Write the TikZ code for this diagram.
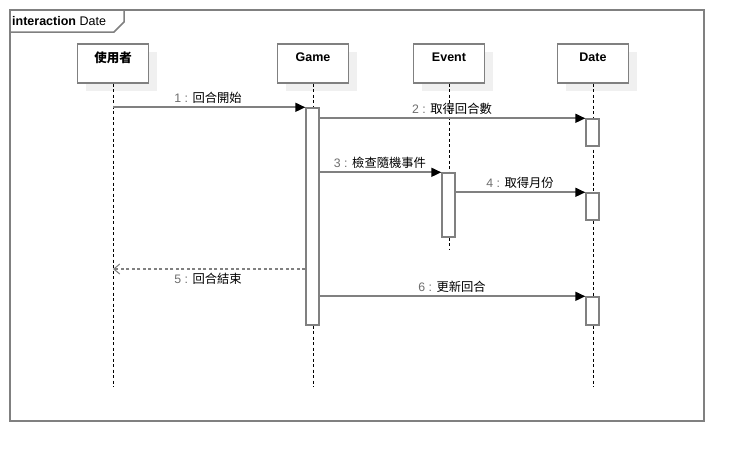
\documentclass[tikz,border=0pt]{standalone}
\usepackage{fontspec}
\setmainfont{Liberation Sans}
\newfontfamily\cjk{Noto Sans CJK TC}
\usetikzlibrary{arrows.meta}
\definecolor{lgray}{RGB}{128,128,128}
\definecolor{shad}{RGB}{240,240,240}
\definecolor{numgray}{RGB}{110,110,110}
\tikzset{
  head/.style={draw=lgray, line width=1.4pt, fill=white, minimum width=71pt, minimum height=39pt, inner sep=0pt, font=\fontsize{12.5}{14}\selectfont\bfseries},
  headshadow/.style={fill=shad, draw=none, minimum width=71pt, minimum height=39pt},
  act/.style={draw=lgray, line width=1.4pt, fill=white, minimum width=13pt, inner sep=0pt},
  life/.style={line width=0.9pt, dash pattern=on 3pt off 2.5pt},
  msg/.style={draw=lgray, line width=1.7pt, -{Triangle[length=10pt,width=9pt,fill=black,color=black]}},
  ret/.style={draw=lgray, line width=1.5pt, dash pattern=on 3pt off 2.5pt, -{Straight Barb[length=6pt,width=10pt,line width=1pt,color=lgray]}},
  lbl/.style={font=\fontsize{12.3}{14}\selectfont, inner sep=0pt},
  frm/.style={draw=lgray, line width=1.5pt}
}
\newcommand{\mlab}[2]{{\color{numgray}#1 :} {\cjk #2}}
\begin{document}
\begin{tikzpicture}[x=1pt,y=-1pt]
\useasboundingbox[fill=white] (0,0) rectangle (744,461);
% frame
\draw[frm] (10,10) rectangle (704,421);
\draw[frm] (10,10) -- (124,10) -- (124,22) -- (114,32) -- (10,32);
\node[anchor=west, inner sep=0pt, font=\fontsize{12.5}{14}\selectfont] (ftitle) at (12,21) {\textbf{interaction} Date};
% head shadows
\node[headshadow] at (121,71.5) {};
\node[headshadow] at (321,71.5) {};
\node[headshadow] at (457,71.5) {};
\node[headshadow] at (601,71.5) {};
% heads
\node[head] (u) at (113,63.5) {\raisebox{12pt}{\cjk\bfseries 使用者}};
\node[head] (g) at (313,63.5) {\raisebox{12pt}{Game}};
\node[head] (e) at (449,63.5) {\raisebox{12pt}{Event}};
\node[head] (d) at (593,63.5) {\raisebox{12pt}{Date}};
% lifeline ends
\coordinate (uend) at (113,387);
\coordinate (gend) at (313,387);
\coordinate (eend) at (449,249);
\coordinate (dend) at (593,387);
\draw[life] (u.south) -- (uend);
\draw[life] (g.south) -- (gend);
\draw[life] (e.south) -- (eend);
\draw[life] (d.south) -- (dend);
% activations
\node[act, minimum height=217pt] (ga) at (312.5,216.5) {};
\node[act, minimum height=27pt] (da1) at (592.5,132.5) {};
\node[act, minimum height=64pt] (ea) at (448.5,205) {};
\node[act, minimum height=27pt] (da2) at (592.5,206.5) {};
\node[act, minimum height=28pt] (da3) at (592.5,311) {};
% messages
\draw[msg] (u.south |- ga.north) -- (ga.north west);
\draw[msg] (ga.east |- da1.north) -- (da1.north west);
\draw[msg] (ga.east |- ea.north) -- (ea.north west);
\draw[msg] (ea.east |- da2.north) -- (da2.north west);
\coordinate (rstart) at (ga.west |- 0,269);
\draw[ret] (rstart) -- (u.south |- rstart);
\draw[msg] (ga.east |- da3.north) -- (da3.north west);
% labels
\node[lbl] (l1) at (208,98) {\mlab{1}{回合開始}};
\node[lbl] (l2) at (452,109) {\mlab{2}{取得回合數}};
\node[lbl] (l3) at (380,163) {\mlab{3}{檢查隨機事件}};
\node[lbl] (l4) at (520,183) {\mlab{4}{取得月份}};
\node[lbl] (l5) at (208,279) {\mlab{5}{回合結束}};
\node[lbl] (l6) at (452,287) {\mlab{6}{更新回合}};
\end{tikzpicture}
\end{document}
